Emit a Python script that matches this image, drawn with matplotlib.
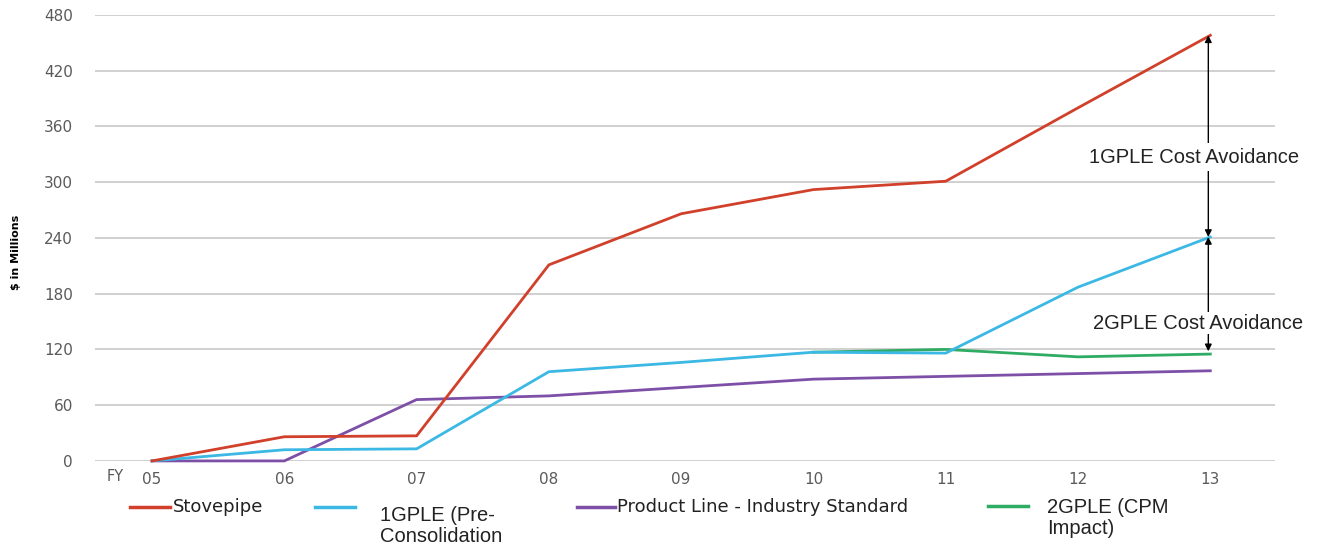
import matplotlib
matplotlib.use('Agg')
import matplotlib.pyplot as plt
from matplotlib.lines import Line2D

# fiscal years and cost curves ($M)
years = ['05', '06', '07', '08', '09', '10', '11', '12', '13']
stovepipe = [0, 26, 27, 211, 266, 292, 301, 380, 458]
gple1 = [0, 12, 13, 96, 106, 117, 116, 187, 241]
product_line = [0, 0, 66, 70, 79, 88, 91, 94, 97]
gple2_years = ['10', '11', '12', '13']
gple2 = [117, 120, 112, 115]

y_ticks = [0, 60, 120, 180, 240, 300, 360, 420, 480]

RED = '#d0402b'
CYAN = '#3bb8e4'
PURPLE = '#7e4fa6'
GREEN = '#2fac64'
GRID = '#cdcdcd'
TICK = '#5a5a5a'

fig = plt.figure(figsize=(13.2, 5.52), dpi=100)
ax = fig.add_axes([0.072, 0.165, 0.894, 0.808])

x = list(range(len(years)))
x2 = [years.index(y) for y in gple2_years]

lw = 2.0
ax.plot(x, product_line, color=PURPLE, lw=lw, clip_on=False, zorder=3)
ax.plot(x, gple1, color=CYAN, lw=lw, clip_on=False, zorder=4)
ax.plot(x2, gple2, color=GREEN, lw=lw, clip_on=False, zorder=3.5)
ax.plot(x, stovepipe, color=RED, lw=lw, clip_on=False, zorder=5)

ax.set_xlim(-0.431, 8.49)
ax.set_ylim(0, 480)
ax.set_yticks(y_ticks)
ax.set_yticklabels([str(v) for v in y_ticks])
ax.set_xticks(x)
ax.set_xticklabels(years)
ax.grid(axis='y', color=GRID, lw=1.3)
ax.set_axisbelow(True)
for s in ax.spines.values():
    s.set_visible(False)
ax.tick_params(axis='both', length=0, labelsize=11, labelcolor=TICK)
ax.tick_params(axis='y', pad=16)
ax.tick_params(axis='x', pad=8)
ax.text(-0.28, -17, 'FY', ha='center', va='center', fontsize=10.5, color=TICK)

fig.text(0.012, 0.542, '$ in Millions', rotation=90, ha='center', va='center',
         fontsize=8, fontweight='bold', family=['Liberation Sans Narrow', 'DejaVu Sans'])

# cost avoidance arrows at the last year
last = len(years) - 1
ax_x = last - 0.015
arrow = dict(arrowstyle='<|-|>', color='black', lw=1.0, mutation_scale=10, shrinkA=0, shrinkB=0)
ax.annotate('', xy=(ax_x, stovepipe[-1]), xytext=(ax_x, gple1[-1]), arrowprops=arrow, zorder=6)
ax.annotate('', xy=(ax_x, gple1[-1]), xytext=(ax_x, gple2[-1] + 3), arrowprops=arrow, zorder=6)
box = dict(facecolor='white', edgecolor='none', pad=3)
ax.text(last - 0.12, 327, '1GPLE Cost Avoidance', ha='center', va='center', fontsize=14.5,
        family='Liberation Sans', color='#222222', bbox=box, zorder=7)
ax.text(last - 0.09, 148, '2GPLE Cost Avoidance', ha='center', va='center', fontsize=14.5,
        family='Liberation Sans', color='#222222', bbox=dict(facecolor='white', edgecolor='none', pad=1.0), zorder=7)

# legend row under the axis
W, H = 1320.0, 552.0


def handle(x0, x1, y, color):
    fig.add_artist(Line2D([x0 / W, x1 / W], [1 - y / H, 1 - y / H], color=color, lw=2.5))


handle(130, 170, 507, RED)
fig.text(173 / W, 1 - 507 / H, 'Stovepipe', ha='left', va='center', fontsize=13, color='#222222')
handle(315, 355, 507, CYAN)
fig.text(380 / W, 1 - 506 / H, '1GPLE (Pre-\nConsolidation', ha='left', va='top', fontsize=14.5,
         family='Liberation Sans', color='#222222', linespacing=1.1)
handle(577, 615, 507, PURPLE)
fig.text(617 / W, 1 - 507 / H, 'Product Line - Industry Standard', ha='left', va='center',
         fontsize=13, color='#222222')
handle(988, 1028, 506, GREEN)
fig.text(1047 / W, 1 - 498 / H, '2GPLE (CPM\nImpact)', ha='left', va='top', fontsize=14.5,
         family='Liberation Sans', color='#222222', linespacing=1.1)

fig.savefig('out.png', dpi=100, facecolor='white')
